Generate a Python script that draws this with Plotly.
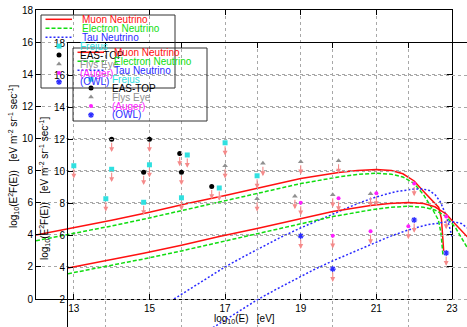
import plotly.graph_objects as go

W, H = 467, 327
FONT = "Liberation Sans, Arial, sans-serif"

# ---- data (log10 E  vs  log10 E^2 F(E)) ----
muon_x = [12, 13, 14, 15, 16, 17, 18, 19, 20, 20.5, 21, 21.4, 21.7, 22, 22.25, 22.5, 22.65, 22.72, 22.76, 22.78]
muon_y = [3.98, 4.42, 4.9, 5.4, 5.95, 6.45, 6.98, 7.5, 7.88, 8.0, 8.06, 8.0, 7.8, 7.35, 6.7, 6.08, 5.7, 5.0, 4.0, 3.0]

electron_x = [12, 13, 14, 15, 16, 17, 18, 19, 20, 20.5, 21, 21.4, 21.7, 22, 22.25, 22.47, 22.64, 22.71, 22.76]
electron_y = [3.63, 4.07, 4.55, 5.05, 5.58, 6.1, 6.65, 7.19, 7.6, 7.76, 7.83, 7.77, 7.6, 7.2, 6.48, 5.65, 4.92, 4.09, 2.74]

tau_x = [15.65, 16, 16.5, 17, 17.5, 18, 18.5, 19, 19.5, 20, 20.5, 21, 21.5, 22, 22.2, 22.4, 22.56, 22.69, 22.82, 22.92, 23.0]
tau_y = [0, 0.52, 1.27, 2.0, 2.65, 3.27, 3.88, 4.43, 4.95, 5.47, 5.94, 6.36, 6.68, 6.85, 6.86, 6.76, 6.48, 6.06, 5.34, 4.6, 3.9]

frejus_x = [13, 14, 15, 16, 17]
frejus_y = [8.3, 8.08, 8.36, 8.97, 9.73]
eastop_x = [14, 15, 15.8]
eastop_y = [9.95, 9.95, 9.07]
flyseye_x = [17, 18, 19, 20]
flyseye_y = [8.3, 8.45, 8.55, 8.61]
auger_x = [19, 20, 21, 22]
auger_y = [6.0, 6.27, 6.58, 7.2]
owl_x = [19, 22]
owl_y = [3.92, 4.92]

x_ticks = [13, 15, 17, 19, 21, 23]
y_ticks = [0, 2, 4, 6, 8, 10, 12, 14, 16, 18]

RED, GREEN, BLUE = "#ff1010", "#10dd10", "#2a2aff"
CYAN, GREY, MAGENTA = "#30e0e0", "#909090", "#ff20ff"
ARROW = "#f58a8a"

lines = [
    ("Muon Neutrino", muon_x, muon_y, dict(color=RED, width=1.5)),
    ("Electron Neutrino", electron_x, electron_y, dict(color=GREEN, width=1.5, dash="4px,2px")),
    ("Tau Neutrino", tau_x, tau_y, dict(color=BLUE, width=1.5, dash="2px,2px")),
]
points = [
    ("Frejus", frejus_x, frejus_y, dict(symbol="square", size=5, color=CYAN), CYAN),
    ("EAS-TOP", eastop_x, eastop_y, dict(symbol="circle", size=5, color="black"), "black"),
    ("Flys Eye", flyseye_x, flyseye_y, dict(symbol="triangle-up", size=5, color=GREY), GREY),
    ("(Auger)", auger_x, auger_y, dict(symbol="circle", size=4, color=MAGENTA), MAGENTA),
    ("(OWL)", owl_x, owl_y, dict(symbol="asterisk-open", size=5, color=BLUE, line=dict(color=BLUE, width=1.2)), BLUE),
]

fig = go.Figure()

# the same plot is drawn twice: once in place, once shifted (second set of axes)
for xr, yr in (("x", "y"), ("x2", "y2")):
    for name, xs, ys, ln in lines:
        fig.add_trace(go.Scatter(x=xs, y=ys, mode="lines", line=ln, xaxis=xr, yaxis=yr,
                                 showlegend=False, hoverinfo="skip"))
    for name, xs, ys, mk, _ in points:
        for xv, yv in zip(xs, ys):
            fig.add_annotation(x=xv, y=yv - 0.8, ax=xv, ay=yv, xref=xr, yref=yr, axref=xr, ayref=yr,
                               text="", showarrow=True, arrowhead=2, arrowsize=0.9, arrowwidth=1.1,
                               arrowcolor=ARROW, standoff=0, startstandoff=2)
        fig.add_trace(go.Scatter(x=xs, y=ys, mode="markers", marker=mk, xaxis=xr, yaxis=yr,
                                 showlegend=False, hoverinfo="skip"))

# hand-made gnuplot style keys, in pixel space (x3/y3)
for dx, dy in ((0, 0), (32, 33)):
    rows = [19.3 + dy + 8.95 * i for i in range(8)]
    fig.add_shape(type="rect", xref="x3", yref="y3", x0=41 + dx, x1=175 + dx, y0=15 + dy, y1=88 + dy,
                  line=dict(color="#333333", width=1))
    for i, (name, xs, ys, ln) in enumerate(lines):
        fig.add_trace(go.Scatter(x=[45.5 + dx, 72 + dx], y=[rows[i], rows[i]], mode="lines", line=ln,
                                 xaxis="x3", yaxis="y3", showlegend=False, hoverinfo="skip"))
        fig.add_annotation(x=80 + dx, y=rows[i], xref="x3", yref="y3", text=name, showarrow=False,
                           xanchor="left", yanchor="middle", font=dict(family=FONT, size=10, color=ln["color"]))
    for j, (name, xs, ys, mk, col) in enumerate(points):
        r = rows[3 + j]
        fig.add_trace(go.Scatter(x=[59 + dx], y=[r], mode="markers", marker=mk,
                                 xaxis="x3", yaxis="y3", showlegend=False, hoverinfo="skip"))
        fig.add_annotation(x=78 + dx, y=r, xref="x3", yref="y3", text=name, showarrow=False,
                           xanchor="left", yanchor="middle", font=dict(family=FONT, size=10, color=col))

ytitle = ("log<sub>10</sub>(E<sup>2</sup>F(E))\u00a0\u00a0\u00a0[eV m<sup>-2</sup> sr<sup>-1</sup> sec<sup>-1</sup>]")
for xp, yp in ((13, 157), (44, 189)):
    fig.add_annotation(x=xp, y=yp, xref="x3", yref="y3", text=ytitle, textangle=-90, showarrow=False,
                       xanchor="center", yanchor="middle", font=dict(family=FONT, size=10, color="black"))
fig.add_annotation(x=244, y=319, xref="x3", yref="y3", text="log<sub>10</sub>(E)\u00a0\u00a0\u00a0[eV]",
                   showarrow=False, xanchor="center", yanchor="middle", font=dict(family=FONT, size=10, color="black"))

XS = 416 / 11
YS = 289 / 18
axis_common = dict(showline=True, linecolor="black", linewidth=1, ticks="inside", ticklen=5,
                   tickcolor="black", showgrid=True, gridcolor="#a8a8a8", griddash="dot", gridwidth=1,
                   zeroline=False, tickfont=dict(family=FONT, size=10, color="black"),
                   automargin=False, fixedrange=True)

fig.update_layout(
    template="none",
    width=W, height=H,
    margin=dict(l=0, r=0, t=0, b=0),
    paper_bgcolor="white",
    plot_bgcolor="rgba(0,0,0,0)",
    showlegend=False,
    xaxis=dict(axis_common, domain=[36 / W, 452 / W], range=[12, 23], tickvals=x_ticks, mirror="ticks", anchor="y"),
    yaxis=dict(axis_common, domain=[1 - 299 / H, 1 - 10 / H], range=[0, 18], tickvals=y_ticks, mirror="ticks", anchor="x"),
    xaxis2=dict(axis_common, domain=[68 / W, 1], range=[12, 12 + (W - 68) / XS], tickvals=x_ticks,
                side="top", showticklabels=False, anchor="y2"),
    yaxis2=dict(axis_common, domain=[0, 1 - 43 / H], range=[18 - (H - 43) / YS, 18], tickvals=y_ticks, anchor="x2"),
    xaxis3=dict(domain=[0, 1], range=[0, W], visible=False, anchor="y3", fixedrange=True),
    yaxis3=dict(domain=[0, 1], range=[H, 0], visible=False, anchor="x3", fixedrange=True),
)

# page body has a default margin; drop it so the figure sits at the window's corner
fig.write_html("out.html", config={"displayModeBar": False},
               post_script="document.body.style.margin='0px';")
